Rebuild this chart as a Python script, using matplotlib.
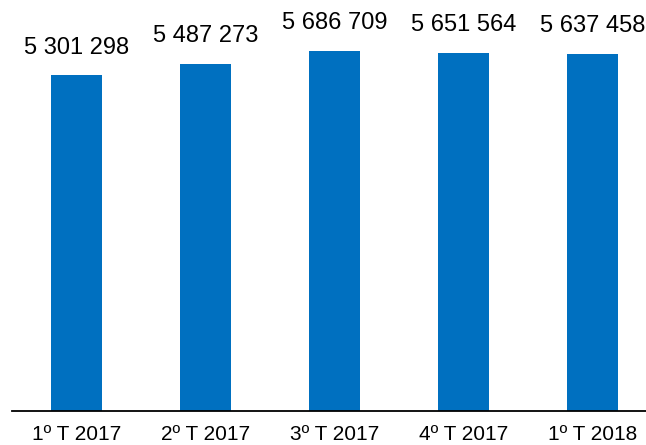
import matplotlib
matplotlib.use("Agg")
from matplotlib import pyplot as plt

categories = ["1º T 2017", "2º T 2017", "3º T 2017", "4º T 2017", "1º T 2018"]
values = [5301298, 5487273, 5686709, 5651564, 5637458]


def fmt(v):
    return "{:,}".format(v).replace(",", " ")


plt.rcParams["font.family"] = ["Liberation Sans", "DejaVu Sans"]

fig = plt.figure(figsize=(6.46, 4.45), dpi=100)
ax = fig.add_axes([12 / 646, 34 / 445, 645 / 646, 411 / 445])

x = list(range(len(categories)))
bars = ax.bar(x, values, width=0.403, color="#0070C0")
for xi, v in zip(x, values):
    ax.annotate(fmt(v), (xi, v), xytext=(0, 12), textcoords="offset points",
                ha="center", va="bottom", fontsize=17)

ax.set_xlim(-0.5, 4.5)
ax.set_ylim(0, 6.49e6)
ax.set_xticks(x)
ax.set_xticklabels(categories, fontsize=15)
ax.tick_params(axis="x", length=0, pad=10)
ax.set_yticks([])
for s in ["top", "right", "left"]:
    ax.spines[s].set_visible(False)
ax.spines["bottom"].set_linewidth(1.3)

plt.savefig("out.png", dpi=100)
